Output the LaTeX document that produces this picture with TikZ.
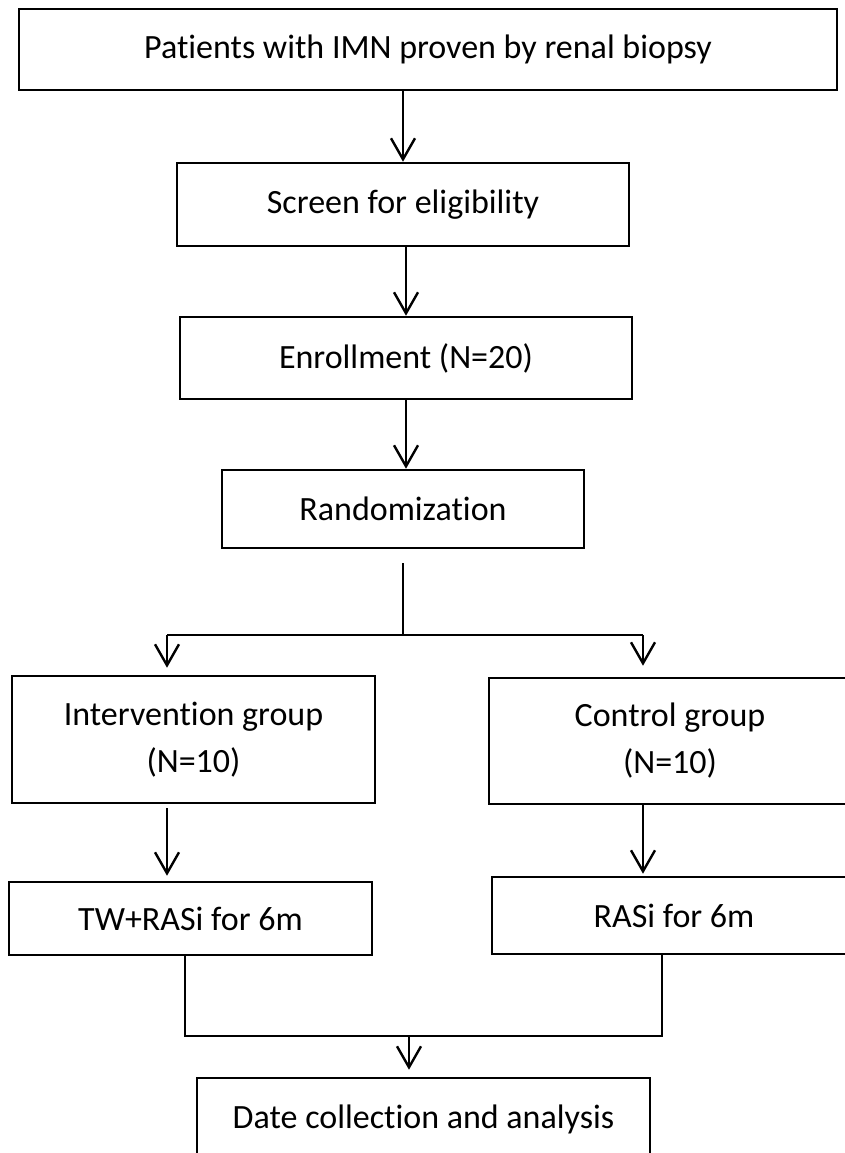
\documentclass[tikz,border=0pt]{standalone}
\usepackage{fontspec}
\setmainfont{Carlito}[Ligatures=NoCommon]
\usetikzlibrary{arrows.meta,positioning,calc}

\begin{document}
\begin{tikzpicture}[x=1pt,y=-1pt,>={Straight Barb[length=21pt,width=24pt]},
  box/.style={draw,line width=2.6pt,minimum width=#1,inner sep=0pt,align=center,
    font=\fontsize{34}{47}\selectfont},
  link/.style={line width=2.4pt}]
  \clip (0,0) rectangle (845,1153);
  \node[box=818pt,minimum height=81pt] (biopsy) at (428,49.5) {Patients with IMN proven by renal biopsy};
  \node[box=452pt,minimum height=83pt] (screen) at (403,204.5) {Screen for eligibility};
  \node[box=452pt,minimum height=82pt] (enrol) at (406,358) {Enrollment (N=20)};
  \node[box=362pt,minimum height=78pt] (random) at (403,509) {Randomization};
  \node[box=363pt,minimum height=127pt] (interv) at (193.5,739.5) {Intervention group\\(N=10)};
  \node[box=362pt,minimum height=126pt] (control) at (670,741) {Control group\\(N=10)};
  \node[box=363pt,minimum height=73pt] (tw) at (190.5,918.5) {TW+RASi for 6m};
  \node[box=364pt,minimum height=77pt] (rasi) at (674,915.5) {RASi for 6m};
  \node[box=453pt,minimum height=82pt] (data) at (423.5,1119) {Date collection and analysis};

  \coordinate (rtop) at (403,563);
  \coordinate (lsplit) at (167,635);
  \coordinate (rsplit) at (643,635);
  \coordinate (ljoin) at (185,1036);
  \coordinate (rjoin) at (662,1036);
  \coordinate (mjoin) at (409,1036);

  \draw[link,->] (biopsy.south -| screen.north) -- (screen.north);
  \draw[link,->] (screen.south -| enrol.north) -- (enrol.north);
  \draw[link,->] (enrol.south) -- (enrol.south |- random.north);
  \draw[link] (rtop) -- (rtop |- lsplit);
  \draw[link] (lsplit) -- (rsplit);
  \draw[link,->,shorten >=7pt] (lsplit) -- (lsplit |- interv.north);
  \draw[link,->,shorten >=11pt] (rsplit) -- (rsplit |- control.north);
  \draw[link,->,shorten <=4pt,shorten >=5pt] (interv.south -| lsplit) -- (tw.north -| lsplit);
  \draw[link,->,shorten >=2pt] (control.south -| rsplit) -- (rasi.north -| rsplit);
  \draw[link] (tw.south -| ljoin) -- (ljoin) -- (rjoin) -- (rasi.south -| rjoin);
  \draw[link,->,shorten >=7pt] (mjoin) -- (data.north -| mjoin);
\end{tikzpicture}
\end{document}
